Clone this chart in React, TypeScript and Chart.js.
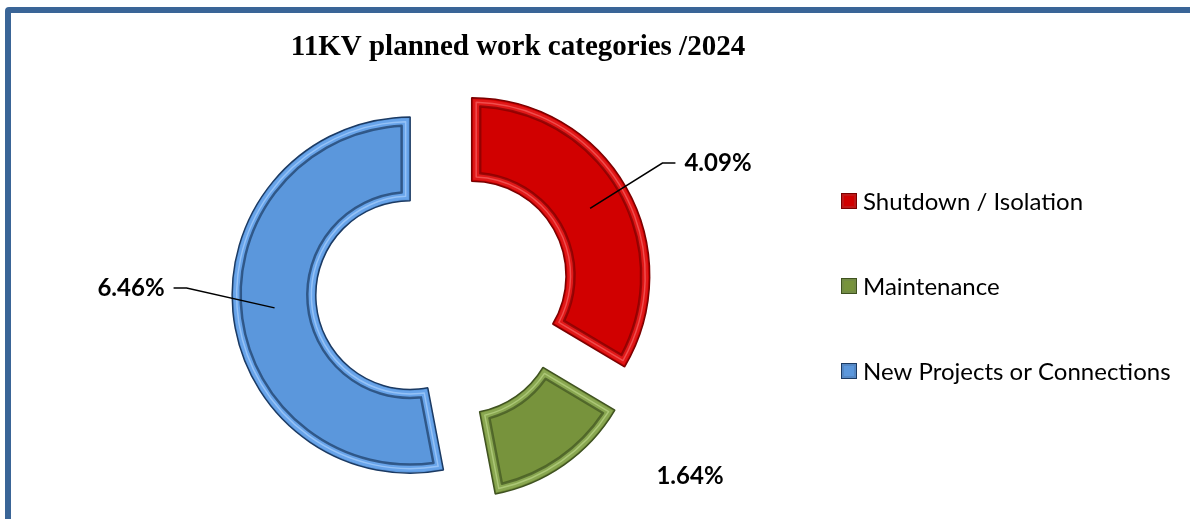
import React, { useEffect, useRef } from 'react';
import { Chart, registerables } from 'chart.js';

Chart.register(...registerables);

// ---- data ----
const chartTitle = '11KV planned work categories /2024';
const categories = ['Shutdown / Isolation', 'Maintenance', 'New Projects or Connections'];
const shares = [4.09, 1.64, 6.46];
const valueLabels = ['4.09%', '1.64%', '6.46%'];

// ---- styles / layout ----
const FILL = ['#D10000', '#77933C', '#5B97DC'];
const EDGE = ['#7A0000', '#3F5220', '#1B3A63'];
const BAND = ['rgba(235,40,40,0.6)', 'rgba(150,180,95,0.6)', 'rgba(110,170,240,0.7)'];
const LIGHT = ['rgba(255,130,130,0.5)', 'rgba(200,225,150,0.55)', 'rgba(180,215,255,0.6)'];
const EXPLODE = 33; // px each slice is pulled out
const RADIUS = 178;
const CUTOUT = '53%';
const LABEL_POS: number[][] = [[275, -129], [247, 184], [-312, -4]]; // text centre rel. to doughnut centre
const LEADER = [true, false, true];
const LEGEND_X = 841;
const LEGEND_Y0 = 201;
const LEGEND_STEP = 85;
const LABEL_FONT = 'bold 24px Lato';
const LEGEND_FONT = '24px Lato';
const TITLE_FONT = 'bold 29px "Liberation Serif"';

function sectorPath(ctx: CanvasRenderingContext2D, cx: number, cy: number, ri: number, ro: number, a0: number, a1: number, t: number, fresh = true) {
  const R = ro - t;
  const r = ri + t;
  const dR = Math.asin(Math.min(1, t / R));
  const dr = Math.asin(Math.min(1, t / r));
  if (fresh) ctx.beginPath();
  ctx.moveTo(cx + Math.cos(a0 + dR) * R, cy + Math.sin(a0 + dR) * R);
  ctx.arc(cx, cy, R, a0 + dR, a1 - dR);
  ctx.arc(cx, cy, r, a1 - dr, a0 + dr, true);
  ctx.closePath();
}

function arcGeom(el: any) {
  const p = el.getProps(['x', 'y', 'startAngle', 'endAngle', 'innerRadius', 'outerRadius'], true);
  const mid = (p.startAngle + p.endAngle) / 2;
  return { ...p, mid, cx: p.x, cy: p.y };
}

const decorPlugin = {
  id: 'decor',
  // pull each slice out along its bisector (Excel-style explode: pure translation)
  afterDatasetsUpdate(chart: any) {
    const meta = chart.getDatasetMeta(0);
    meta.data.forEach((el: any) => {
      const mid = (el.startAngle + el.endAngle) / 2;
      el.x += Math.cos(mid) * EXPLODE;
      el.y += Math.sin(mid) * EXPLODE;
    });
  },
  afterDatasetsDraw(chart: any) {
    const ctx: CanvasRenderingContext2D = chart.ctx;
    const meta = chart.getDatasetMeta(0);
    ctx.save();
    ctx.lineJoin = 'round';
    meta.data.forEach((el: any, i: number) => {
      const g = arcGeom(el);
      // lighter bevel band
      sectorPath(ctx, g.cx, g.cy, g.innerRadius, g.outerRadius, g.startAngle, g.endAngle, 1.5);
      sectorPath(ctx, g.cx, g.cy, g.innerRadius, g.outerRadius, g.startAngle, g.endAngle, 8.5, false);
      ctx.fillStyle = BAND[i];
      ctx.fill('evenodd');
      // highlight stripe
      sectorPath(ctx, g.cx, g.cy, g.innerRadius, g.outerRadius, g.startAngle, g.endAngle, 4.5);
      ctx.strokeStyle = LIGHT[i];
      ctx.lineWidth = 1.5;
      ctx.stroke();
      // inner groove
      sectorPath(ctx, g.cx, g.cy, g.innerRadius, g.outerRadius, g.startAngle, g.endAngle, 8.5);
      ctx.strokeStyle = EDGE[i];
      ctx.globalAlpha = 0.7;
      ctx.lineWidth = 2.5;
      ctx.stroke();
      ctx.globalAlpha = 1;
    });
    ctx.restore();
  },
  afterDraw(chart: any) {
    const ctx: CanvasRenderingContext2D = chart.ctx;
    const meta = chart.getDatasetMeta(0);
    const area = chart.chartArea;
    const ccx = (area.left + area.right) / 2;
    const ccy = (area.top + area.bottom) / 2;
    ctx.save();
    // title
    ctx.fillStyle = '#000';
    ctx.font = TITLE_FONT;
    ctx.textAlign = 'center';
    ctx.textBaseline = 'alphabetic';
    ctx.fillText(chartTitle, ccx + 75, 55);

    // value labels + leaders
    ctx.font = LABEL_FONT;
    ctx.textBaseline = 'middle';
    meta.data.forEach((el: any, i: number) => {
      const g = arcGeom(el);
      const tx = ccx + LABEL_POS[i][0];
      const ty = ccy + LABEL_POS[i][1];
      ctx.fillStyle = '#000';
      ctx.textAlign = 'center';
      ctx.fillText(valueLabels[i], tx, ty);
      if (LEADER[i]) {
        const w = ctx.measureText(valueLabels[i]).width;
        const rm = (g.innerRadius + g.outerRadius) / 2;
        const sx = g.cx + Math.cos(g.mid) * rm;
        const sy = g.cy + Math.sin(g.mid) * rm;
        const side = sx > tx ? 1 : -1;
        const ex = tx + side * (w / 2 + 9);
        const kx = ex + side * 13;
        ctx.beginPath();
        ctx.moveTo(sx, sy);
        ctx.lineTo(kx, ty);
        ctx.lineTo(ex, ty);
        ctx.strokeStyle = '#000';
        ctx.lineWidth = 1.5;
        ctx.stroke();
      }
    });

    // legend
    ctx.font = LEGEND_FONT;
    ctx.textAlign = 'left';
    ctx.textBaseline = 'middle';
    categories.forEach((c, i) => {
      const y = LEGEND_Y0 + i * LEGEND_STEP;
      const x = LEGEND_X;
      ctx.fillStyle = EDGE[i];
      ctx.fillRect(x, y - 8, 16, 16);
      ctx.fillStyle = BAND[i];
      ctx.fillRect(x + 1, y - 7, 14, 14);
      ctx.fillStyle = FILL[i];
      ctx.fillRect(x + 3, y - 5, 10, 10);
      ctx.fillStyle = '#000';
      ctx.fillText(c, x + 22, y + 1);
    });
    ctx.restore();
  },
};

export default function App() {
  const ref = useRef<HTMLCanvasElement>(null);
  useEffect(() => {
    if (!ref.current) return;
    const chart = new Chart(ref.current, {
      type: 'doughnut',
      data: {
        labels: categories,
        datasets: [
          {
            data: shares,
            backgroundColor: FILL,
            borderColor: EDGE,
            borderWidth: 1.5,
            hoverOffset: 0,
          },
        ],
      },
      options: {
        responsive: false,
        animation: false,
        radius: RADIUS,
        cutout: CUTOUT,
        layout: { padding: { left: 193, right: 497, top: 72, bottom: 7 } },
        plugins: {
          legend: { display: false },
          title: { display: false },
          tooltip: { enabled: false },
        },
      } as any,
      plugins: [decorPlugin],
    });
    return () => chart.destroy();
  }, []);

  return (
    <div style={{ position: 'fixed', left: 0, top: 0, width: 1190, height: 519, overflow: 'hidden', background: '#fff' }}>
      <div
        style={{
          position: 'absolute',
          left: 5,
          top: 7,
          width: 1400,
          height: 800,
          border: '6px solid #3A6597',
          borderRadius: 4,
          boxSizing: 'border-box',
        }}
      />
      <canvas ref={ref} width={1190} height={519} style={{ position: 'absolute', left: 0, top: 0 }} />
    </div>
  );
}
